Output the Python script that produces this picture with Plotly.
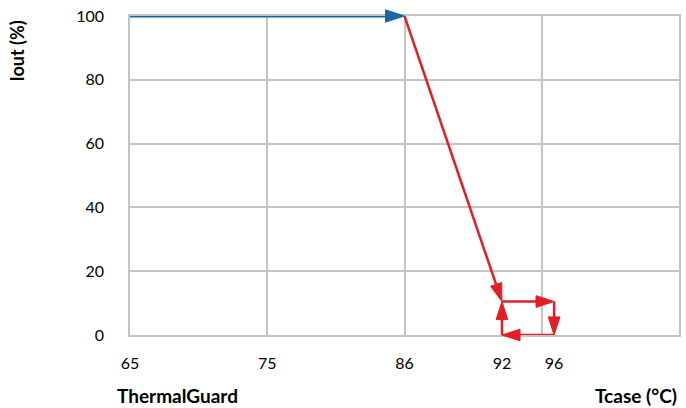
import numpy as np
import plotly.graph_objects as go

# Axis tick labels (temperature) and their positions on the chart's axis
tick_temps = [65, 75, 86, 92, 96]
tick_pos = [0, 1, 2, 2.71, 3.09]
y_ticks = [0, 20, 40, 60, 80, 100]

# Normal operation (blue) : full current up to 86 °C
blue_temp = [65, 86]
blue_iout = [100, 100]

# ThermalGuard derating / hysteresis loop (red)
red_temp = [86, 92, 96, 96, 92, 92]
red_iout = [100, 10.5, 10.5, 0, 0, 10.5]

def tpos(t):
    return list(np.interp(t, tick_temps, tick_pos))

BLUE = "#1767a7"
RED = "#e31e25"
GRID = "#c4c4c4"
FONT = "Lato"

fig = go.Figure()


def add_path(temps, iouts, color, width, size):
    xs = tpos(temps)
    for i in range(len(xs) - 1):
        fig.add_trace(go.Scatter(
            x=[xs[i], xs[i + 1]], y=[iouts[i], iouts[i + 1]], mode="lines+markers",
            line=dict(color=color, width=width),
            marker=dict(symbol="arrow", size=[0, size], angleref="previous",
                        color=color, opacity=1, line=dict(width=1, color=color)),
            hoverinfo="skip", showlegend=False, cliponaxis=False))


add_path(blue_temp, blue_iout, BLUE, 3, 20)
add_path(red_temp, red_iout, RED, 2.5, 19)

# invisible trace bound to the label axis
fig.add_trace(go.Scatter(x=tpos(tick_temps), y=[None] * len(tick_temps), xaxis="x2",
                         showlegend=False, hoverinfo="skip"))

fig.update_layout(
    width=686, height=408,
    margin=dict(l=130, r=5, t=16, b=73),
    paper_bgcolor="white", plot_bgcolor="white",
    font=dict(family=FONT, size=16, color="#000000"),
    xaxis=dict(range=[0, 4], dtick=1, tick0=0, showticklabels=False,
               showgrid=True, gridcolor=GRID, gridwidth=1.5,
               showline=True, linecolor=GRID, linewidth=1.5, mirror=True,
               zeroline=False, ticks="", layer="below traces"),
    xaxis2=dict(range=[0, 4], overlaying="x", side="bottom", anchor="y",
                tickvals=tick_pos, ticktext=[str(t) for t in tick_temps],
                showgrid=False, showline=False, zeroline=False, ticks="",
                ticklabelstandoff=17, tickfont=dict(family=FONT, size=16)),
    yaxis=dict(range=[0, 100], tickvals=y_ticks, ticktext=[str(v) for v in y_ticks],
               showgrid=True, gridcolor=GRID, gridwidth=1.5,
               showline=True, linecolor=GRID, linewidth=1.5, mirror=True,
               zeroline=False, ticks="", ticklabelstandoff=21, layer="below traces",
               tickfont=dict(family=FONT, size=16)),
    annotations=[
        dict(text="<b>Iout (%)</b>", xref="paper", yref="paper", x=-0.205, y=0.89,
             xanchor="center", yanchor="middle",
             textangle=-90, showarrow=False, font=dict(family=FONT, size=18)),
        dict(text="<b>ThermalGuard</b>", xref="paper", yref="paper", x=-0.027, y=-0.19,
             xanchor="left", yanchor="middle", showarrow=False,
             font=dict(family=FONT, size=19)),
        dict(text="<b>Tcase (°C)</b>", xref="paper", yref="paper", x=1.0, y=-0.19,
             xanchor="right", yanchor="middle", showarrow=False,
             font=dict(family=FONT, size=19)),
    ],
)

fig.write_html("out.html", config={"displayModeBar": False},
               post_script="document.body.style.margin='0';document.body.style.overflow='hidden';")
